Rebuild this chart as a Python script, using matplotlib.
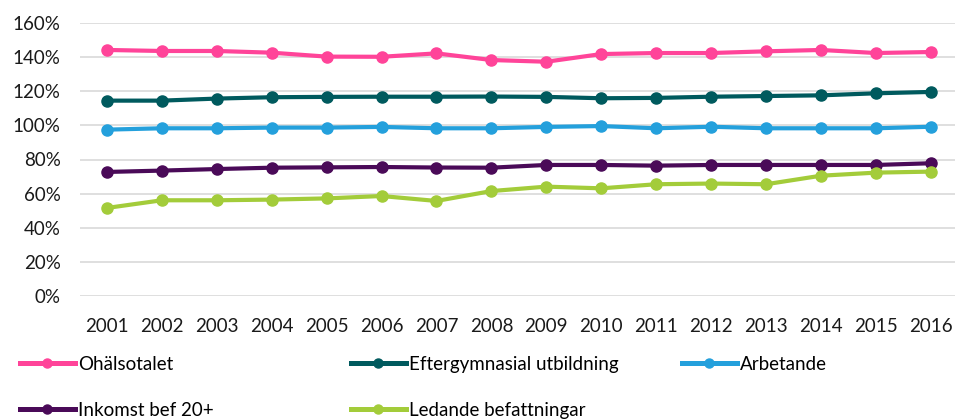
import matplotlib
matplotlib.use("Agg")
import matplotlib.pyplot as plt
from matplotlib.ticker import FuncFormatter

plt.rcParams['font.family'] = ['Lato', 'DejaVu Sans']

years = list(range(2001, 2017))

ohalsotalet = [144.2, 143.6, 143.6, 142.6, 140.3, 140.2, 142.2, 138.3, 137.3, 141.8,
               142.4, 142.4, 143.4, 144.2, 142.4, 143.0]
eftergymnasial = [114.5, 114.5, 115.7, 116.5, 116.7, 116.8, 116.8, 116.9, 116.7, 115.9,
                  116.1, 116.8, 117.2, 117.6, 118.8, 119.6]
arbetande = [97.5, 98.3, 98.3, 98.7, 98.7, 99.1, 98.3, 98.3, 99.1, 99.6,
             98.3, 99.2, 98.3, 98.3, 98.3, 99.2]
inkomst = [72.7, 73.5, 74.4, 75.2, 75.4, 75.6, 75.3, 75.2, 76.8, 76.8,
           76.4, 76.8, 76.8, 76.8, 76.8, 77.8]
ledande = [51.6, 56.1, 56.1, 56.5, 57.2, 58.6, 55.7, 61.5, 64.1, 63.1,
           65.5, 65.9, 65.5, 70.5, 72.3, 72.9]

series = [
    ("Ohälsotalet", ohalsotalet, "#ff4499"),
    ("Eftergymnasial utbildning", eftergymnasial, "#005a5e"),
    ("Arbetande", arbetande, "#24a0dc"),
    ("Inkomst bef 20+", inkomst, "#4a0a58"),
    ("Ledande befattningar", ledande, "#a3cc3a"),
]

FS = 13.5

fig = plt.figure(figsize=(9.55, 4.2), dpi=100)
ax = fig.add_axes([80 / 955, 1 - 296 / 420, 875 / 955, 273 / 420])

handles = {}
for name, vals, col in series:
    h, = ax.plot(years, vals, color=col, lw=3, marker="o", ms=8, label=name)
    handles[name] = h

ax.set_ylim(0, 160)
ax.set_yticks(range(0, 161, 20))
ax.yaxis.set_major_formatter(FuncFormatter(lambda v, p: f"{int(v)}%"))
ax.set_xlim(2000.51, 2016.44)
ax.set_xticks(years)
ax.grid(axis="y", color="#d9d9d9", lw=1.2)
ax.set_axisbelow(True)
for s in ax.spines.values():
    s.set_visible(False)
ax.tick_params(axis="both", length=0, labelsize=FS, colors="#1a1a1a")
ax.tick_params(axis="y", pad=14)
ax.tick_params(axis="x", pad=16)

# legend laid out in three manual columns
cols = [
    (16 / 955, ["Ohälsotalet", "Inkomst bef 20+"]),
    (347 / 955, ["Eftergymnasial utbildning", "Ledande befattningar"]),
    (678 / 955, ["Arbetande"]),
]
for x0, names in cols:
    leg = fig.legend([handles[n] for n in names], names, loc="upper left",
                     bbox_to_anchor=(x0, 1 - 352 / 420), frameon=False,
                     fontsize=FS, handlelength=2.95, handletextpad=0.15,
                     labelspacing=1.55, borderaxespad=0, borderpad=0.2)
    for lh in leg.legend_handles:
        lh.set_markersize(6.5)
        lh.set_linewidth(3.6)

fig.savefig("out.png", dpi=100)
